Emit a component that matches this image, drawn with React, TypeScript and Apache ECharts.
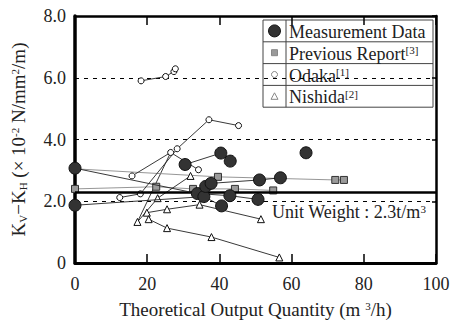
import React, { useEffect, useRef } from "react";
import * as echarts from "echarts";

// ---- data ----
const xTicks = [0, 20, 40, 60, 80, 100];
const yTicks = [0, 2, 4, 6, 8];
const UNIT_WEIGHT_LINE = 2.3;

const measurementLines: number[][][] = [
  [[0, 3.07], [33.9, 2.25], [42.9, 2.18], [50.7, 2.06]],
  [[0, 1.87], [35.7, 2.15], [40.6, 1.85]],
  [[30.5, 3.19], [40.4, 3.56]],
  [[36.2, 2.48], [37.7, 2.58], [51.1, 2.69], [56.9, 2.76]],
  [[43.0, 3.3]],
  [[64.0, 3.57]],
];

const previousReportLines: number[][][] = [
  [[0, 2.4], [22.5, 2.47], [32.7, 2.4], [44.3, 2.4], [54.9, 2.35]],
  [[0, 3.05], [39.6, 2.79], [72.1, 2.69], [74.5, 2.69]],
];

const odakaLines: number[][][] = [
  [[18.3, 5.9], [25.1, 6.04], [27.4, 6.2], [27.8, 6.29]],
  [[12.4, 2.12], [18.1, 2.24], [28.3, 3.7], [37.1, 4.64], [45.3, 4.45]],
  [[15.8, 2.82], [26.5, 3.58], [34.2, 3.02]],
];

const nishidaLines: number[][][] = [
  [[17.3, 1.33], [22.9, 2.1], [32.0, 2.82]],
  [[19.9, 1.63], [25.5, 1.74], [34.5, 1.89], [51.5, 1.42]],
  [[20.4, 1.42], [25.5, 1.13], [37.8, 0.84], [56.6, 0.18]],
];

// plain connecting line seen in the reference (no markers of its own)
const connectorLines: number[][][] = [
  [[17.3, 1.33], [26.5, 3.58]],
];

const legendLabels = ["Measurement Data", "Previous Report", "Odaka", "Nishida"];
const legendRefs = ["", "[3]", "[1]", "[2]"];

const FONT = "Liberation Serif";

export default function App() {
  const ref = useRef<HTMLDivElement>(null);

  useEffect(() => {
    if (!ref.current) return;
    const chart = echarts.init(ref.current, undefined, { renderer: "svg" });

    const mk = (pts: number[][], sym: string, size: number, fill: string, stroke: string, lineColor: string, z: number) => ({
      type: "line",
      data: pts,
      symbol: sym,
      symbolSize: size,
      showAllSymbol: true,
      silent: true,
      z,
      itemStyle: { color: fill, borderColor: stroke, borderWidth: 1, opacity: 1 },
      lineStyle: { color: lineColor, width: 0.9 },
      emphasis: { disabled: true },
    });

    const series: any[] = [];
    previousReportLines.forEach((p) => series.push(mk(p, "rect", 7, "#9a9a9a", "#333", "#8a8a8a", 3)));
    connectorLines.forEach((p) => series.push(mk(p, "none", 0, "#fff", "#111", "#222", 2)));
    nishidaLines.forEach((p) => series.push(mk(p, "triangle", 7, "#fff", "#111", "#222", 4)));
    odakaLines.forEach((p) => series.push(mk(p, "circle", 6, "#fff", "#111", "#222", 4)));
    measurementLines.forEach((p) => series.push(mk(p, "circle", 12, "#333", "#111", "#222", 6)));

    series[0].markLine = {
      silent: true,
      symbol: "none",
      label: { show: false },
      lineStyle: { color: "#000", width: 2.5, type: "solid" },
      data: [{ yAxis: UNIT_WEIGHT_LINE }],
    };

    const supStyle = { fontSize: 11, verticalAlign: "top", lineHeight: 11, fontFamily: FONT, color: "#222" };
    const subStyle = { fontSize: 11, verticalAlign: "bottom", lineHeight: 11, fontFamily: FONT, color: "#222" };

    // legend table
    const lgX = 263, lgY = 20, lgW = 170, rowH = 21.8, colW = 23;
    const legendEls: any[] = [
      { type: "rect", shape: { x: lgX, y: lgY, width: lgW, height: rowH * 4 }, style: { fill: "#fff", stroke: "#444", lineWidth: 1 } },
      { type: "line", shape: { x1: lgX + colW, y1: lgY, x2: lgX + colW, y2: lgY + rowH * 4 }, style: { stroke: "#444", lineWidth: 1 } },
    ];
    for (let i = 1; i < 4; i++) {
      legendEls.push({ type: "line", shape: { x1: lgX, y1: lgY + rowH * i, x2: lgX + lgW, y2: lgY + rowH * i }, style: { stroke: "#444", lineWidth: 1 } });
    }
    const cx = lgX + colW / 2;
    const cy = (i: number) => lgY + rowH * i + rowH / 2;
    legendEls.push({ type: "circle", shape: { cx, cy: cy(0), r: 6 }, style: { fill: "#333", stroke: "#111" } });
    legendEls.push({ type: "rect", shape: { x: cx - 3, y: cy(1) - 3, width: 6, height: 6 }, style: { fill: "#9a9a9a", stroke: "#888" } });
    legendEls.push({ type: "circle", shape: { cx, cy: cy(2), r: 3 }, style: { fill: "#fff", stroke: "#888" } });
    legendEls.push({ type: "polygon", shape: { points: [[cx, cy(3) - 3.5], [cx + 3.5, cy(3) + 3], [cx - 3.5, cy(3) + 3]] }, style: { fill: "#fff", stroke: "#888" } });
    legendLabels.forEach((lab, i) => {
      legendEls.push({
        type: "text",
        x: lgX + colW + 3,
        y: cy(i) + 1,
        style: {
          text: legendRefs[i] ? `${lab}{sup|${legendRefs[i]}}` : lab,
          fontSize: 18,
          fontFamily: FONT,
          fill: "#222",
          verticalAlign: "middle",
          rich: { sup: supStyle },
        },
      });
    });

    const option: any = {
      animation: false,
      grid: { left: 75, right: 17, top: 16, bottom: 56, containLabel: false },
      xAxis: [
        {
          type: "value",
          min: xTicks[0],
          max: xTicks[xTicks.length - 1],
          interval: 20,
          position: "bottom",
          axisLine: { show: true, onZero: false, lineStyle: { color: "#000", width: 3 } },
          axisTick: { show: true, inside: true, length: 9, lineStyle: { color: "#000", width: 1.5 } },
          axisLabel: { fontSize: 18, color: "#222", fontFamily: FONT, margin: 12 },
          splitLine: { show: false },
          name: "Theoretical Output Quantity (m {sup|3}/h)",
          nameLocation: "middle",
          nameGap: 37,
          nameTextStyle: { fontSize: 19, color: "#222", fontFamily: FONT, rich: { sup: supStyle } },
        },
        {
          type: "value",
          min: 0,
          max: 100,
          interval: 20,
          position: "top",
          axisLine: { show: true, onZero: false, lineStyle: { color: "#000", width: 2.5 } },
          axisTick: { show: true, inside: true, length: 9, lineStyle: { color: "#000", width: 1.5 } },
          axisLabel: { show: false },
          splitLine: { show: false },
        },
      ],
      yAxis: [
        {
          type: "value",
          min: yTicks[0],
          max: yTicks[yTicks.length - 1],
          interval: 2,
          position: "left",
          axisLine: { show: true, onZero: false, lineStyle: { color: "#000", width: 3.5 } },
          axisTick: { show: false },
          axisLabel: {
            fontSize: 18,
            color: "#222",
            fontFamily: FONT,
            margin: 9,
            formatter: (v: number) => (v === 0 ? "0" : v.toFixed(1)),
          },
          splitLine: { show: true, lineStyle: { color: "#000", width: 1, type: [4, 5] } },
          name: "K{sub|V}−K{sub|H} (× 10{sup|-2} N/mm{sup|2}/m)",
          nameLocation: "middle",
          nameRotate: 90,
          nameGap: 47,
          nameTextStyle: { fontSize: 19, color: "#222", fontFamily: FONT, rich: { sup: supStyle, sub: subStyle } },
        },
        {
          type: "value",
          min: 0,
          max: 8,
          interval: 2,
          position: "right",
          axisLine: { show: true, onZero: false, lineStyle: { color: "#000", width: 2.5 } },
          axisTick: { show: true, inside: true, length: 4, lineStyle: { color: "#000", width: 1.5 } },
          axisLabel: { show: false },
          splitLine: { show: false },
        },
      ],
      series,
      graphic: [
        {
          type: "text",
          x: 272,
          y: 212,
          z: 10,
          style: {
            text: "Unit Weight : 2.3t/m{sup|3}",
            fontSize: 18,
            fontFamily: FONT,
            fill: "#222",
            verticalAlign: "middle",
            rich: { sup: supStyle },
          },
        },
        { type: "group", z: 10, children: legendEls },
      ],
    };
    chart.setOption(option);
    return () => chart.dispose();
  }, []);

  return <div ref={ref} style={{ position: "absolute", left: 0, top: 0, width: 453, height: 324 }} />;
}
